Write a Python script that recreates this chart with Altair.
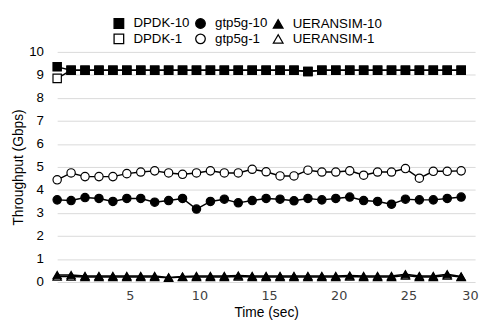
import altair as alt
import pandas as pd

time = list(range(30))

dpdk_10 = [9.35, 9.2, 9.2, 9.2, 9.2, 9.2, 9.2, 9.2, 9.2, 9.2,
           9.2, 9.2, 9.2, 9.2, 9.2, 9.2, 9.2, 9.2, 9.15, 9.2,
           9.2, 9.2, 9.2, 9.2, 9.2, 9.2, 9.2, 9.2, 9.2, 9.2]
dpdk_1 = [8.85, 9.2, 9.2, 9.2, 9.2, 9.2, 9.2, 9.2, 9.2, 9.2,
          9.2, 9.2, 9.2, 9.2, 9.2, 9.2, 9.2, 9.2, 9.15, 9.2,
          9.2, 9.2, 9.2, 9.2, 9.2, 9.2, 9.2, 9.2, 9.2, 9.2]
gtp5g_10 = [3.57, 3.54, 3.67, 3.63, 3.50, 3.63, 3.63, 3.47, 3.54, 3.63,
            3.17, 3.50, 3.60, 3.44, 3.54, 3.63, 3.60, 3.53, 3.63, 3.57,
            3.63, 3.69, 3.54, 3.50, 3.38, 3.60, 3.57, 3.57, 3.63, 3.69]
gtp5g_1 = [4.44, 4.74, 4.58, 4.58, 4.58, 4.71, 4.78, 4.83, 4.74, 4.68,
           4.74, 4.83, 4.74, 4.74, 4.90, 4.79, 4.61, 4.61, 4.86, 4.78,
           4.78, 4.83, 4.64, 4.78, 4.78, 4.93, 4.51, 4.81, 4.81, 4.83]
ueransim_10 = [0.30, 0.30, 0.26, 0.26, 0.26, 0.26, 0.26, 0.26, 0.20, 0.24,
               0.26, 0.26, 0.26, 0.28, 0.26, 0.26, 0.26, 0.26, 0.26, 0.26,
               0.26, 0.28, 0.26, 0.26, 0.26, 0.34, 0.26, 0.26, 0.34, 0.24]
ueransim_1 = [0.24, 0.24, 0.22, 0.22, 0.22, 0.22, 0.22, 0.22, 0.18, 0.22,
              0.22, 0.22, 0.22, 0.24, 0.22, 0.22, 0.22, 0.22, 0.22, 0.22,
              0.22, 0.24, 0.22, 0.22, 0.22, 0.28, 0.22, 0.22, 0.28, 0.22]

series_order = ["DPDK-10", "gtp5g-10", "UERANSIM-10", "DPDK-1", "gtp5g-1", "UERANSIM-1"]
shapes = ["square", "circle", "triangle-up", "square", "circle", "triangle-up"]
fills = ["black", "black", "black", "white", "white", "white"]
strokes = ["black", "black", "black", "black", "black", "black"]

draw = [("DPDK-1", dpdk_1), ("gtp5g-1", gtp5g_1), ("UERANSIM-1", ueransim_1),
        ("DPDK-10", dpdk_10), ("gtp5g-10", gtp5g_10), ("UERANSIM-10", ueransim_10)]
rows = []
k = 0
for name, vals in draw:
    for t, v in zip(time, vals):
        rows.append({"time": t, "value": v, "series": name, "z": k})
    k += 1
df = pd.DataFrame(rows)

x = alt.X("time:Q", scale=alt.Scale(domain=[0, 30], nice=False, zero=False),
          axis=alt.Axis(values=[5, 10, 15, 20, 25, 30], title="Time (sec)", grid=False,
                        ticks=False, domain=False, labelFont="DejaVu Sans", labelFontSize=13,
                        labelColor="#404040", labelPadding=8, labelFlush=False, labelOffset=3,
                        labelAlign={"condition": {"test": "datum.value == 30", "value": "right"},
                                    "value": "center"},
                        titleFont="Liberation Sans", titleFontSize=14, titleFontWeight="normal",
                        titleColor="#000000", titlePadding=3))
y = alt.Y("value:Q", scale=alt.Scale(domain=[0, 10], nice=False),
          axis=alt.Axis(values=list(range(11)), title="Throughput (Gbps)", ticks=False, domain=False,
                        gridColor="#d9d9d9", labelFont="Liberation Sans", labelFontSize=13.5,
                        labelColor="#000000", labelPadding=14,
                        titleFont="Liberation Sans", titleFontSize=14, titleFontWeight="normal",
                        titleColor="#000000", titlePadding=3))

lines = alt.Chart(df).mark_line(color="black", strokeWidth=1.5).encode(
    x=x, y=y, detail="series:N", order="time:Q")

legend = alt.Legend(title=None, orient="none", legendX=56, legendY=-36, columns=3,
                    direction="horizontal",
                    columnPadding=3, rowPadding=0, symbolSize=95,
                    symbolStrokeWidth=1.3, labelFont="Liberation Sans", labelFontSize=13.5,
                    labelColor="#000000", labelOffset=8)

points = alt.Chart(df).mark_point(filled=False, size=72, strokeWidth=1.2,
                                  opacity=1).encode(
    x=x, y=y,
    shape=alt.Shape("series:N", scale=alt.Scale(domain=series_order, range=shapes), legend=legend),
    fill=alt.Fill("series:N", scale=alt.Scale(domain=series_order, range=fills), legend=legend),
    stroke=alt.Stroke("series:N", scale=alt.Scale(domain=series_order, range=strokes), legend=legend),
    order="z:Q")

chart = alt.layer(lines, points).properties(
    width=425, height=234,
    autosize=alt.AutoSizeParams(type="none"),
    padding={"left": 50, "top": 42, "right": 6, "bottom": 37},
).configure_view(stroke=None)

chart.save("out.html", embed_options={"renderer": "svg", "actions": False})
